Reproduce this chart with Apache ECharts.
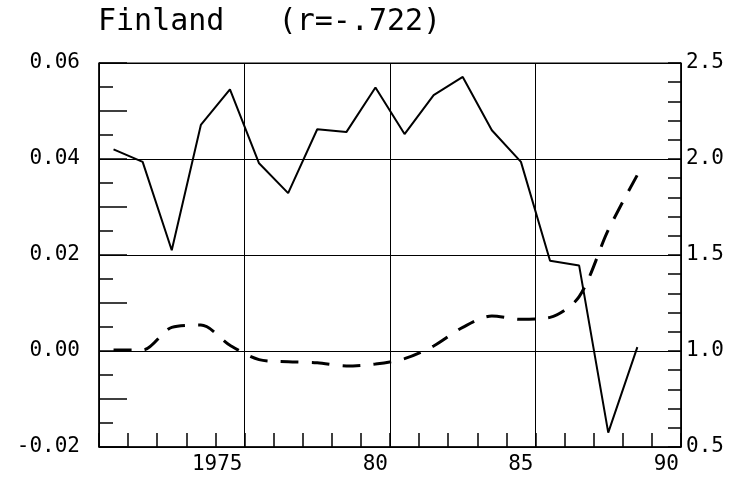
<!DOCTYPE html>
<html>
<head>
<meta charset="utf-8">
<script src="https://cdn.jsdelivr.net/npm/echarts@6/dist/echarts.min.js"></script>
<style>
  html, body { margin: 0; padding: 0; background: #fff; }
  #chart { width: 732px; height: 480px; }
</style>
</head>
<body>
<div id="chart"></div>
<script>
// annual observations, plotted at mid-year
const years = [1970, 1971, 1972, 1973, 1974, 1975, 1976, 1977, 1978, 1979,
  1980, 1981, 1982, 1983, 1984, 1985, 1986, 1987, 1988]
// solid line, left axis
const leftSeries = [0.0420, 0.0394, 0.0210, 0.0471, 0.0545, 0.0391, 0.0329, 0.0462, 0.0456, 0.0549,
  0.0452, 0.0533, 0.0571, 0.0460, 0.0394, 0.0188, 0.0178, -0.0170, 0.0008]
// dashed line, right axis
const rightSeries = [1.005, 1.005, 1.123, 1.135, 1.030, 0.955, 0.944, 0.939, 0.922, 0.932,
  0.960, 1.026, 1.123, 1.182, 1.165, 1.175, 1.283, 1.630, 1.917]
// x tick labels
const xTickValues = [1975, 1980, 1985, 1990]
const xTickLabels = ['1975', '80', '85', '90']

const titleText = 'Finland   (r=-.722)'
const mono = 'DejaVu Sans Mono'

const chart = echarts.init(document.getElementById('chart'))

const labelStyle = { color: '#000', fontFamily: mono, fontSize: 21 }
const tickLine = { color: '#000', width: 1.5 }

chart.setOption({
  animation: false,
  title: {
    text: titleText,
    left: 93,
    top: 2,
    textStyle: { fontFamily: mono, fontSize: 30, fontWeight: 'normal', color: '#000' }
  },
  grid: {
    left: 99, right: 51, top: 63, bottom: 33,
    show: true, borderColor: '#000', borderWidth: 1
  },
  xAxis: {
    type: 'value',
    min: 1970, max: 1990, interval: 5,
    axisLine: { show: true, onZero: false, lineStyle: { color: '#000', width: 1.5 } },
    axisTick: { show: true, inside: true, length: 14, lineStyle: tickLine },
    minorTick: { show: true, splitNumber: 5, length: 14, lineStyle: tickLine },
    splitLine: { show: true, lineStyle: { color: '#000', width: 1 } },
    axisLabel: {
      ...labelStyle,
      align: 'right',
      margin: 7,
      padding: [0, 2, 0, 0],
      formatter: v => {
        const i = xTickValues.indexOf(v)
        return i < 0 ? '' : xTickLabels[i]
      }
    }
  },
  yAxis: [
    {
      // half steps carry the long ticks; labels only every 0.02
      type: 'value', position: 'left',
      min: -0.02, max: 0.06, interval: 0.01,
      axisLine: { show: true, onZero: false, lineStyle: { color: '#000', width: 1.5 } },
      axisTick: { show: true, inside: true, length: 28, lineStyle: tickLine },
      minorTick: { show: true, splitNumber: 2, length: 14, lineStyle: tickLine },
      splitLine: { show: false },
      axisLabel: {
        ...labelStyle, margin: 19,
        formatter: v => (Math.round(v * 100) % 2 === 0 ? v.toFixed(2) : '')
      }
    },
    {
      type: 'value', position: 'right',
      min: 0.5, max: 2.5, interval: 0.5,
      axisLine: { show: true, onZero: false, lineStyle: { color: '#000', width: 1.5 } },
      axisTick: { show: true, inside: true, length: 13, lineStyle: tickLine },
      minorTick: { show: true, splitNumber: 5, length: 13, lineStyle: tickLine },
      splitLine: { show: true, lineStyle: { color: '#000', width: 1 } },
      axisLabel: { ...labelStyle, margin: 5, formatter: v => v.toFixed(1) }
    }
  ],
  series: [
    {
      type: 'line',
      yAxisIndex: 0,
      showSymbol: false,
      data: years.map((y, i) => [y + 0.5, leftSeries[i]]),
      lineStyle: { color: '#000', width: 2 },
      z: 5
    },
    {
      type: 'line',
      yAxisIndex: 1,
      showSymbol: false,
      smooth: 0.3,
      data: years.map((y, i) => [y + 0.5, rightSeries[i]]),
      lineStyle: { color: '#000', width: 3, type: [18, 13] },
      z: 5
    }
  ]
})
</script>
</body>
</html>
